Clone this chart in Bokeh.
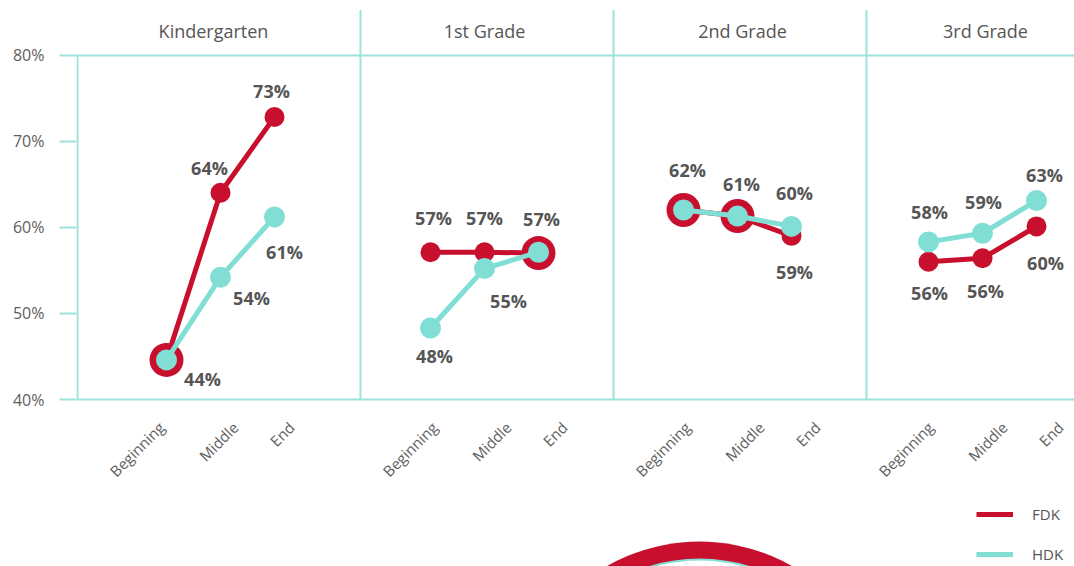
import math
from bokeh.plotting import figure
from bokeh.models import Range1d, FixedTicker, ColumnDataSource, Legend, LegendItem
from bokeh.core.properties import value
from bokeh.embed import file_html
from bokeh.resources import INLINE

# ---------------- data ----------------
GRADES = ["Kindergarten", "1st Grade", "2nd Grade", "3rd Grade"]
STAGES = ["Beginning", "Middle", "End"]
SERIES = ["FDK", "HDK"]
FDK_VALUES = [44.6, 64.0, 72.8, 57.1, 57.1, 57.0, 62.0, 61.3, 59.0, 56.0, 56.4, 60.1]
HDK_VALUES = [44.6, 54.2, 61.2, 48.3, 55.2, 57.1, 62.0, 61.3, 60.1, 58.3, 59.3, 63.1]
FDK_LABELS = ["44%", "64%", "73%", "57%", "57%", "57%", "62%", "61%", "59%", "56%", "56%", "60%"]
HDK_LABELS = ["", "54%", "61%", "48%", "55%", "", "", "", "60%", "58%", "59%", "63%"]
Y_TICKS = [40, 50, 60, 70, 80]
Y_TICK_LABELS = ["40%", "50%", "60%", "70%", "80%"]

# ---------------- layout / style ----------------
RED = "#C8102E"
TEAL = "#80DED4"
RULE = "#9CE3DB"
GREY = "#555555"
FONT = "Open Sans"

W, H = 1074, 566
FRAME_LEFT = 76
PX_PER_UNIT = 8.6125
Y_TOP = 80 + 54.5 / PX_PER_UNIT
Y_BOTTOM = Y_TOP - H / PX_PER_UNIT
X_START = 76
X_END = X_START + (W - FRAME_LEFT)

PANEL_X0 = [166, 430, 683, 928]
STEP = 54
PANEL_EDGES = [360, 613, 866]
AXIS_X = 77
TITLE_X = [213, 484, 742, 985]
TICK_X0 = [161, 434, 687, 930]
TICK_DX = [0, 74, 130]

FDK_OFF = [(36, 19), (-11, -25), (-3, -26), (3, -34), (0, -34), (3, -34),
           (4, -40), (4, -32), (3, 36), (1, 31), (3, 33), (9, 37)]
HDK_OFF = [(0, 0), (31, 21), (10, 35), (4, 28), (24, 32), (0, 0),
           (0, 0), (0, 0), (3, -33), (1, -30), (1, -31), (8, -26)]

xs_flat = [PANEL_X0[g] + STEP * s for g in range(len(GRADES)) for s in range(len(STAGES))]
xs_grp = [[PANEL_X0[g] + STEP * s for s in range(len(STAGES))] for g in range(len(GRADES))]
fdk_grp = [FDK_VALUES[g * 3:(g + 1) * 3] for g in range(len(GRADES))]
hdk_grp = [HDK_VALUES[g * 3:(g + 1) * 3] for g in range(len(GRADES))]

p = figure(width=W, height=H,
           x_range=Range1d(X_START, X_END), y_range=Range1d(Y_BOTTOM, Y_TOP),
           x_axis_type=None, output_backend="svg", toolbar_location=None,
           min_border_left=FRAME_LEFT, min_border_right=0,
           min_border_top=0, min_border_bottom=0)
p.outline_line_color = None
p.background_fill_color = "white"
p.border_fill_color = "white"

# axis / grid
p.yaxis.ticker = FixedTicker(ticks=Y_TICKS)
p.yaxis.major_label_overrides = {t: l for t, l in zip(Y_TICKS, Y_TICK_LABELS)}
p.yaxis.axis_line_color = None
p.yaxis.major_tick_line_color = RULE
p.yaxis.major_tick_line_width = 2
p.yaxis.major_tick_out = 17
p.yaxis.major_tick_in = 0
p.yaxis.minor_tick_line_color = None
p.yaxis.major_label_standoff = 15
p.yaxis.major_label_text_font = FONT
p.yaxis.major_label_text_font_size = "16px"
p.yaxis.major_label_text_color = "#5e5e5e"
p.ygrid.ticker = FixedTicker(ticks=[Y_TICKS[0], Y_TICKS[-1]])
p.ygrid.grid_line_color = RULE
p.ygrid.grid_line_width = 2
p.xgrid.visible = False

# decorative ring at the bottom
CX, CY = 699, 40 - (728 - 399) / PX_PER_UNIT
p.circle(x=[CX], y=[CY], radius=187, radius_units="screen", fill_color=RED, line_color=None)
p.circle(x=[CX], y=[CY], radius=169, radius_units="screen", fill_color="white",
         line_color=TEAL, line_width=2)

# panel rules
p.segment(x0=[AXIS_X], y0=[Y_TICKS[0]], x1=[AXIS_X], y1=[Y_TICKS[-1]], line_color=RULE, line_width=2)
p.segment(x0=PANEL_EDGES, y0=[Y_TICKS[0]] * 3, x1=PANEL_EDGES, y1=[80 + 45 / PX_PER_UNIT] * 3,
          line_color=RULE, line_width=2)

# series
r_fdk = p.multi_line(xs=xs_grp, ys=fdk_grp, line_color=RED, line_width=5)
fdk_sizes = [34 if abs(f - h) < 0.25 else 20 for f, h in zip(FDK_VALUES, HDK_VALUES)]
p.scatter(x=xs_flat, y=FDK_VALUES, size=fdk_sizes, fill_color=RED, line_color=None)
r_hdk = p.multi_line(xs=xs_grp, ys=hdk_grp, line_color=TEAL, line_width=5)
p.scatter(x=xs_flat, y=HDK_VALUES, size=21, fill_color=TEAL, line_color=None)

# data labels
lx, ly, lt, ldx, ldy = [], [], [], [], []
for vals, labs, offs in ((FDK_VALUES, FDK_LABELS, FDK_OFF), (HDK_VALUES, HDK_LABELS, HDK_OFF)):
    for i, (v, t, o) in enumerate(zip(vals, labs, offs)):
        if t:
            lx.append(xs_flat[i]); ly.append(v); lt.append(t); ldx.append(o[0]); ldy.append(o[1])
lab_src = ColumnDataSource(dict(x=lx, y=ly, text=lt, dx=ldx, dy=ldy))
p.text(x="x", y="y", text="text", x_offset="dx", y_offset="dy", source=lab_src,
       text_font=value(FONT), text_font_style="bold", text_font_size="18px",
       text_color=GREY, text_align="center", text_baseline="middle")

# panel titles
p.text(x=TITLE_X, y=[Y_TICKS[-1]] * len(GRADES), text=GRADES, y_offset=-24,
       text_font=value(FONT), text_font_size="18px", text_color=GREY,
       text_align="center", text_baseline="middle")

# stage labels (rotated)
tx = [TICK_X0[g] + TICK_DX[s] for g in range(len(GRADES)) for s in range(len(STAGES))]
p.text(x=tx, y=[Y_TICKS[0]] * len(tx), text=STAGES * len(GRADES), y_offset=25,
       angle=math.pi / 4, text_font=value(FONT), text_font_size="15px",
       text_color="#5e5e5e", text_align="right", text_baseline="middle")

legend = Legend(items=[LegendItem(label=SERIES[0], renderers=[r_fdk]),
                       LegendItem(label=SERIES[1], renderers=[r_hdk])],
                location=(900, 2), padding=0, margin=0, spacing=20,
                glyph_width=37, glyph_height=20, label_height=20, label_standoff=19,
                label_text_font=FONT, label_text_font_size="15px", label_text_color=GREY,
                border_line_color=None, background_fill_alpha=0)
p.add_layout(legend)

open("out.html", "w").write(file_html(p, INLINE))
